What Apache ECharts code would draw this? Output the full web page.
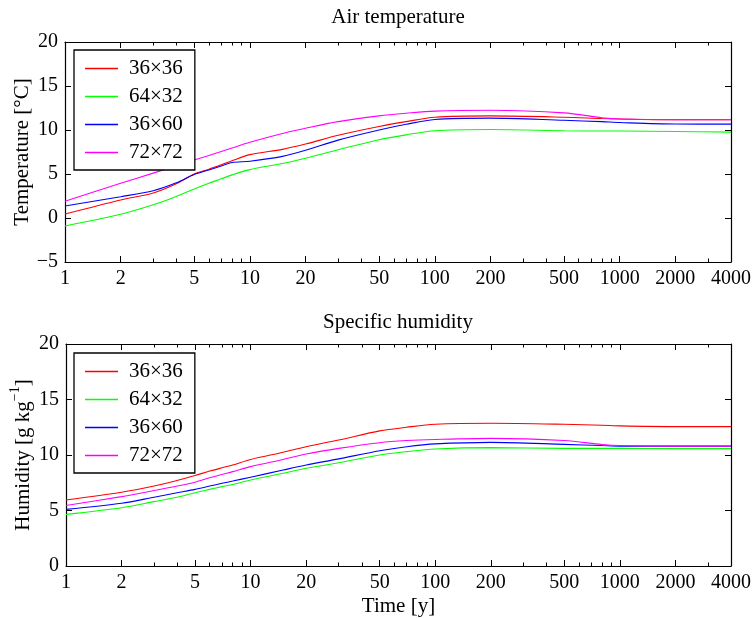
<!DOCTYPE html>
<html>
<head>
<meta charset="utf-8">
<script src="https://cdn.jsdelivr.net/npm/echarts@6/dist/echarts.min.js"></script>
<style>
  html, body { margin: 0; padding: 0; background: #fff; }
  #chart { width: 756px; height: 618px; }
</style>
</head>
<body>
<div id="chart"></div>
<script>
// Simulation time in years (log axis)
const TIME = [1, 2, 3, 4, 5, 6, 7, 8, 10, 15, 20, 30, 50, 70, 100, 200, 500, 800, 1000, 2000, 4000];

const RUN_NAMES = ['36×36', '64×32', '36×60', '72×72'];
const RUN_COLORS = ['#ff0000', '#00ff00', '#0000ff', '#ff00ff'];

// Air temperature [°C]
const TEMP_36x36 = [0.45, 2.05, 2.85, 3.9, 5.0, 5.55, 6.05, 6.5, 7.2, 7.8, 8.4, 9.4, 10.4, 10.95, 11.45, 11.6, 11.45, 11.3, 11.25, 11.16, 11.16];
const TEMP_64x32 = [-0.9, 0.42, 1.5, 2.45, 3.3, 3.95, 4.45, 4.9, 5.5, 6.2, 6.8, 7.75, 8.9, 9.45, 9.92, 10.05, 9.92, 9.88, 9.88, 9.83, 9.76];
const TEMP_36x60 = [1.36, 2.42, 3.1, 4.0, 4.95, 5.45, 5.9, 6.3, 6.45, 7.0, 7.7, 8.85, 10.0, 10.65, 11.2, 11.35, 11.1, 10.95, 10.85, 10.68, 10.67];
const TEMP_72x72 = [1.9, 3.95, 5.1, 5.95, 6.6, 7.1, 7.55, 7.95, 8.6, 9.6, 10.2, 10.95, 11.6, 11.9, 12.15, 12.25, 11.95, 11.4, 11.25, 11.16, 11.16];

// Specific humidity [g/kg]
const HUM_36x36 = [5.95, 6.64, 7.2, 7.7, 8.15, 8.55, 8.85, 9.1, 9.6, 10.25, 10.75, 11.35, 12.17, 12.5, 12.77, 12.86, 12.77, 12.68, 12.62, 12.56, 12.56];
const HUM_64x32 = [4.65, 5.25, 5.8, 6.2, 6.6, 6.9, 7.15, 7.35, 7.75, 8.35, 8.8, 9.3, 10.0, 10.3, 10.54, 10.66, 10.6, 10.6, 10.6, 10.57, 10.57];
const HUM_36x60 = [5.1, 5.65, 6.2, 6.6, 6.9, 7.2, 7.45, 7.65, 8.0, 8.65, 9.1, 9.65, 10.39, 10.75, 11.0, 11.14, 10.96, 10.85, 10.8, 10.8, 10.8];
const HUM_72x72 = [5.45, 6.25, 6.8, 7.2, 7.55, 7.95, 8.25, 8.5, 8.95, 9.6, 10.09, 10.6, 11.11, 11.3, 11.4, 11.5, 11.3, 10.95, 10.85, 10.8, 10.8];

// Axis ticks
const X_MAJOR_TICKS = [1, 2, 5, 10, 20, 50, 100, 200, 500, 1000, 2000, 4000];
const X_MINOR_TICKS = [3, 4, 6, 7, 8, 9, 30, 40, 60, 70, 80, 90, 300, 400, 600, 700, 800, 900, 3000];
const TEMP_RANGE = [-5, 20];
const HUM_RANGE = [0, 20];
const Y_STEP = 5;

const FONT = '"Liberation Serif", "Times New Roman", serif';
const X_MAX = 4000;
const LOG_MAX = Math.log10(X_MAX);
const BLACK = '#000';

const TEMP_SERIES = [TEMP_36x36, TEMP_64x32, TEMP_36x60, TEMP_72x72];
const HUM_SERIES = [HUM_36x36, HUM_64x32, HUM_36x60, HUM_72x72];

const majorLog = X_MAJOR_TICKS.map(v => Math.log10(v));
const minorLog = X_MINOR_TICKS.map(v => Math.log10(v));

// Each panel: a log axis carrying the curves, plus log-spaced value axes
// that draw the frame, the ticks and the tick labels.
function xAxesFor(grid, axisName) {
  const frame = {
    gridIndex: grid, type: 'value', min: 0, max: LOG_MAX,
    splitLine: { show: false },
    axisLabel: { show: false },
    axisLine: { show: false, onZero: false },
    axisTick: { show: false }
  };
  const line = { show: true, onZero: false, lineStyle: { color: BLACK, width: 1.2 } };
  return [
    { gridIndex: grid, type: 'log', logBase: 10, min: 1, max: X_MAX, show: false },
    Object.assign({}, frame, {
      position: 'bottom',
      axisLine: line,
      axisTick: { show: true, inside: true, length: 6, customValues: majorLog, lineStyle: { color: BLACK, width: 1 } },
      axisLabel: {
        show: true, customValues: majorLog, margin: 7, color: BLACK,
        fontFamily: FONT, fontSize: 20,
        formatter: v => String(Math.round(Math.pow(10, v)))
      },
      name: axisName || '',
      nameLocation: 'middle',
      nameGap: 30,
      nameTextStyle: { fontFamily: FONT, fontSize: 21, color: BLACK }
    }),
    Object.assign({}, frame, {
      position: 'bottom',
      axisTick: { show: true, inside: true, length: 3.5, customValues: minorLog, lineStyle: { color: BLACK, width: 1 } }
    }),
    Object.assign({}, frame, {
      position: 'top',
      axisLine: line,
      axisTick: { show: true, inside: true, length: 6, customValues: majorLog, lineStyle: { color: BLACK, width: 1 } }
    }),
    Object.assign({}, frame, {
      position: 'top',
      axisTick: { show: true, inside: true, length: 3.5, customValues: minorLog, lineStyle: { color: BLACK, width: 1 } }
    })
  ];
}

function yAxesFor(grid, range, name, nameRich) {
  const line = { show: true, onZero: false, lineStyle: { color: BLACK, width: 1.2 } };
  const tick = { show: true, inside: true, length: 6, lineStyle: { color: BLACK, width: 1 } };
  return [
    {
      gridIndex: grid, type: 'value', min: range[0], max: range[1], interval: Y_STEP,
      position: 'left', axisLine: line, axisTick: tick, splitLine: { show: false },
      axisLabel: {
        margin: 7, color: BLACK, fontFamily: FONT, fontSize: 20,
        formatter: v => String(v).replace('-', '\u2212')
      },
      name: name, nameLocation: 'middle', nameGap: 32, nameMoveOverlap: false,
      nameTextStyle: Object.assign({ fontFamily: FONT, fontSize: 21, color: BLACK }, nameRich ? { rich: nameRich } : {})
    },
    {
      gridIndex: grid, type: 'value', min: range[0], max: range[1], interval: Y_STEP,
      position: 'right', axisLine: line, axisTick: tick, splitLine: { show: false },
      axisLabel: { show: false }
    }
  ];
}

const humidityRich = {
  n: { fontFamily: FONT, fontSize: 21, color: BLACK, lineHeight: 26, verticalAlign: 'bottom' },
  s: { fontFamily: FONT, fontSize: 14, color: BLACK, lineHeight: 14, verticalAlign: 'top' }
};

function seriesFor(values, xIdx, yIdx) {
  return values.map((arr, i) => ({
    name: RUN_NAMES[i],
    type: 'line',
    xAxisIndex: xIdx,
    yAxisIndex: yIdx,
    data: TIME.map((t, k) => [t, arr[k]]),
    showSymbol: false,
    symbol: 'none',
    smooth: 0.3,
    color: RUN_COLORS[i],
    itemStyle: { color: RUN_COLORS[i] },
    lineStyle: { color: RUN_COLORS[i], width: 1.1 },
    z: 2
  }));
}

function legendFor(top) {
  return {
    left: 74, top: top, orient: 'vertical',
    data: RUN_NAMES,
    icon: 'rect', itemWidth: 33, itemHeight: 1.3, itemGap: 7,
    padding: [8, 12, 7, 11],
    borderColor: BLACK, borderWidth: 1.3, borderRadius: 0,
    backgroundColor: '#fff',
    selectedMode: false,
    textStyle: { fontFamily: FONT, fontSize: 21, color: BLACK, lineHeight: 21, padding: [0, 0, 0, 6] }
  };
}

function panelTitle(text, y) {
  return {
    type: 'text', x: 398, y: y, z: 10,
    style: {
      text: text, fill: BLACK, font: '21px ' + FONT,
      align: 'center', verticalAlign: 'middle',
      textAlign: 'center', textVerticalAlign: 'middle'
    }
  };
}

const chart = echarts.init(document.getElementById('chart'), null, { renderer: 'canvas' });
chart.setOption({
  animation: false,
  backgroundColor: '#fff',
  grid: [
    { left: 65, top: 42, width: 666, height: 220 },
    { left: 65, top: 344, width: 666, height: 222 }
  ],
  xAxis: [].concat(xAxesFor(0, ''), xAxesFor(1, 'Time [y]')),
  yAxis: [].concat(
    yAxesFor(0, TEMP_RANGE, 'Temperature [°C]'),
    yAxesFor(1, HUM_RANGE, '{n|Humidity [g kg}{s|\u22121}{n|]}', humidityRich)
  ),
  legend: [legendFor(50), legendFor(353)],
  graphic: [
    panelTitle('Air temperature', 17),
    panelTitle('Specific humidity', 322)
  ],
  series: [].concat(
    seriesFor(TEMP_SERIES, 0, 0),
    seriesFor(HUM_SERIES, 5, 2)
  )
});
</script>
</body>
</html>
